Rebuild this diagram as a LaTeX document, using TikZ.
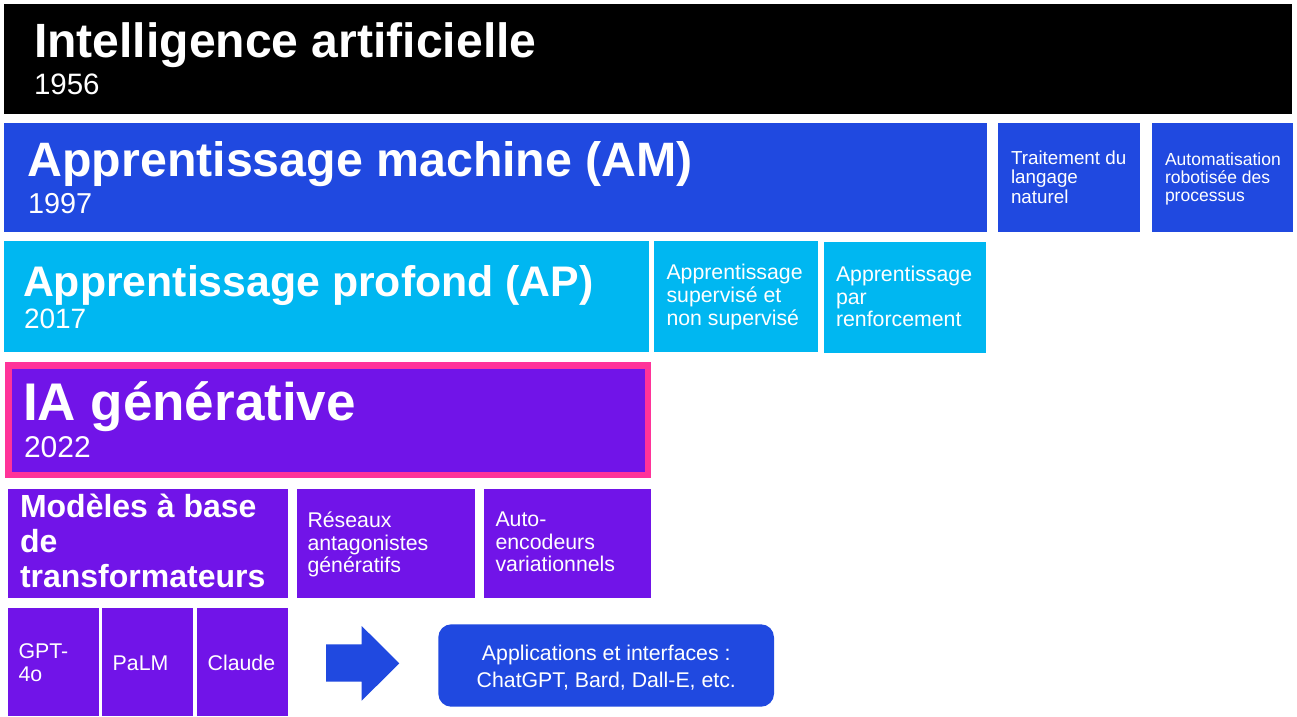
\documentclass[tikz,border=0pt]{standalone}
\usepackage{fontspec}
\setmainfont{Liberation Sans}
\definecolor{cBlue}{HTML}{2049E0}
\definecolor{cCyan}{HTML}{00B7F1}
\definecolor{cPurple}{HTML}{7114E8}
\definecolor{cPink}{HTML}{FF3399}
\begin{document}
\begin{tikzpicture}[x=1pt,y=-1pt,
  box/.style={draw=none,inner sep=0pt,outer sep=0pt,anchor=north west},
  txt/.style={text=white,inner sep=0pt,outer sep=0pt,anchor=base west,align=left},
  fbig/.style={font=\fontsize{#1}{#1}\selectfont\bfseries},
  fyear/.style={font=\fontsize{#1}{#1}\selectfont},
  fsmall/.style={font=\fontsize{21.3}{#1}\selectfont}]
\useasboundingbox (0,0) rectangle (1297,716);
\fill[white] (0,0) rectangle (1297,716);
% row 1
\node[box,fill=black,minimum width=1288pt,minimum height=110pt] (ai) at (4,4) {};
\node[txt,fbig=48.1] (ai-t) at (34,57.3) {Intelligence artificielle};
\node[txt,fyear=29.5] (ai-y) at (34,94) {1956};
% row 2
\node[box,fill=cBlue,minimum width=983pt,minimum height=109pt] (am) at (4,123) {};
\node[txt,fbig=48.3] (am-t) at (27.5,176.7) {Apprentissage machine (AM)};
\node[txt,fyear=28.8] (am-y) at (28,213) {1997};
\node[box,fill=cBlue,minimum width=142pt,minimum height=109pt] (tln) at (998,123) {};
\node[txt,font=\fontsize{18.8}{19.5}\selectfont] (tln-t) at (1011,203.3) {Traitement du\\langage\\naturel};
\node[box,fill=cBlue,minimum width=141pt,minimum height=109pt] (arp) at (1152,123) {};
\node[txt,font=\fontsize{17.5}{18}\selectfont] (arp-t) at (1165,201) {Automatisation\\robotisée des\\processus};
% row 3
\node[box,fill=cCyan,minimum width=645pt,minimum height=110.5pt] (ap) at (4,241) {};
\node[txt,fbig=42.8] (ap-t) at (23,296.7) {Apprentissage profond (AP)};
\node[txt,fyear=28] (ap-y) at (24,328.3) {2017};
\node[box,fill=cCyan,minimum width=164pt,minimum height=110.5pt] (sup) at (654,241) {};
\node[txt,fsmall=23] (sup-t) at (666.5,325.7) {Apprentissage\\supervisé et\\non supervisé};
\node[box,fill=cCyan,minimum width=162pt,minimum height=110.5pt] (ren) at (824,242) {};
\node[txt,fsmall=22.5] (ren-t) at (836,326.7) {Apprentissage\\par\\renforcement};
% row 4
\node[box,fill=cPurple,draw=cPink,line width=6.5pt,minimum width=639.5pt,minimum height=109.7pt,anchor=north west] (gen) at (8.25,365.5) {};
\node[txt,fbig=53] (gen-t) at (23,420) {IA générative};
\node[txt,fyear=30] (gen-y) at (24,457.7) {2022};
% row 5
\node[box,fill=cPurple,minimum width=280pt,minimum height=109pt] (trf) at (8,489.3) {};
\node[txt,font=\fontsize{32}{35.2}\selectfont\bfseries] (trf-t) at (20,587.7) {Modèles à base\\de\\transformateurs};
\node[box,fill=cPurple,minimum width=177.7pt,minimum height=109pt] (gan) at (297.3,489.3) {};
\node[txt,fsmall=22.5] (gan-t) at (307.5,572.7) {Réseaux\\antagonistes\\génératifs};
\node[box,fill=cPurple,minimum width=166.7pt,minimum height=109pt] (vae) at (484,489.3) {};
\node[txt,fsmall=22.5] (vae-t) at (495.5,571.7) {Auto-\\encodeurs\\variationnels};
% row 6
\node[box,fill=cPurple,minimum width=91pt,minimum height=108pt] (gpt) at (8,608) {};
\node[txt,fsmall=22.7] (gpt-t) at (18.5,681) {GPT-\\4o};
\node[box,fill=cPurple,minimum width=90.7pt,minimum height=108pt] (palm) at (102,608) {};
\node[txt,fsmall=22.7] (palm-t) at (112.7,670.7) {PaLM};
\node[box,fill=cPurple,minimum width=91pt,minimum height=108pt] (cla) at (197,608) {};
\node[txt,fsmall=22.7] (cla-t) at (207.7,670.7) {Claude};
% arrow
\fill[cBlue] (326,644.3) -- (361.7,644.3) -- (361.7,626) -- (399.3,663.3) -- (361.7,700.7) -- (361.7,681.7) -- (326,681.7) -- cycle;
% applications
\node[box,fill=cBlue,rounded corners=13pt,minimum width=335.7pt,minimum height=82.4pt] (app) at (438.3,624.3) {};
\node[txt,fsmall=27,anchor=base,align=center] (app-t) at (606.3,687.7) {Applications et interfaces :\\ChatGPT, Bard, Dall-E, etc.};
\end{tikzpicture}
\end{document}
